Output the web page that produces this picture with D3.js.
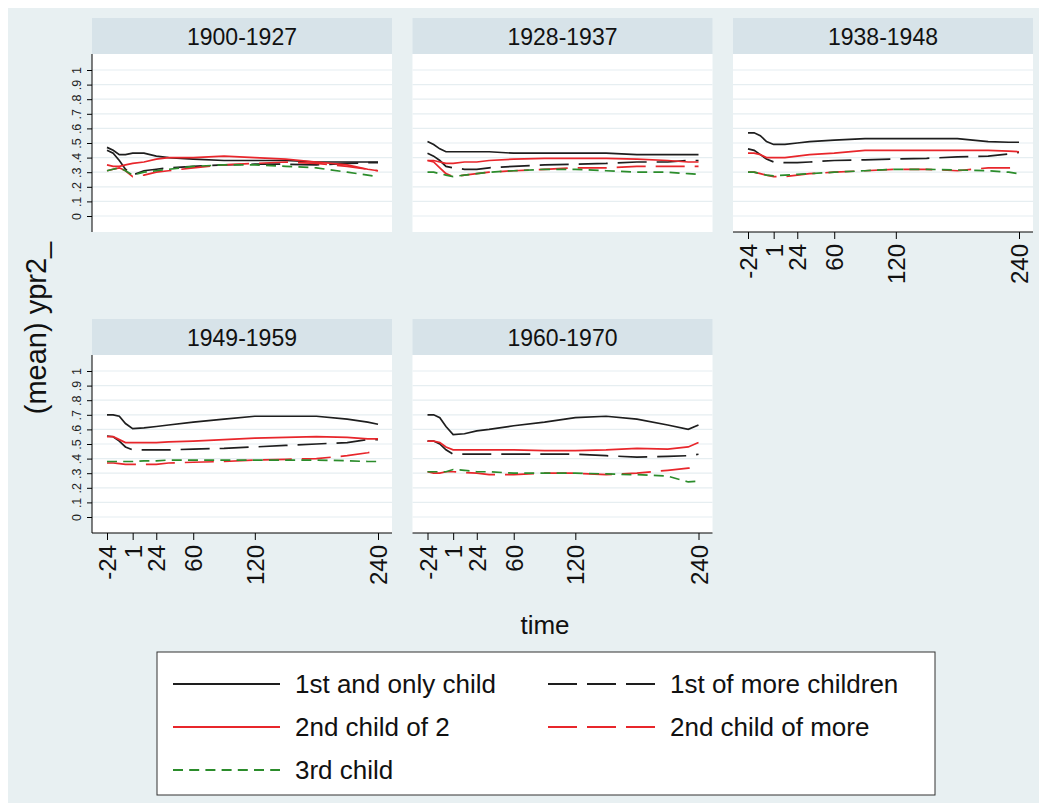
<!DOCTYPE html>
<html>
<head>
<meta charset="utf-8">
<style>
  body { margin: 0; background: #fff; }
  svg { display: block; font-family: 'Liberation Sans', Arial, sans-serif; }
  .axis line, .axis path { stroke: #000; }
</style>
</head>
<body>
<svg width="1039" height="803"></svg>
<script src="https://d3js.org/d3.v7.min.js"></script>
<script>
// months relative to event
const months = [-24, -18, -12, -6, 1, 12, 24, 36, 60, 90, 120, 150, 180, 210, 230, 240];
const cohorts = ["1900-1927", "1928-1937", "1938-1948", "1949-1959", "1960-1970"];
const seriesNames = ["1st and only child", "1st of more children", "2nd child of 2", "2nd child of more", "3rd child"];
const xTicks = [-24, 1, 24, 60, 120, 240];
const yTicks = [0, .1, .2, .3, .4, .5, .6, .7, .8, .9, 1];

// (mean) ypr2_ per cohort, one array per series
const onlyChild = [
  [.47, .45, .42, .42, .43, .43, .41, .40, .39, .38, .38, .38, .37, .37, .37, .37],
  [.51, .49, .46, .44, .44, .44, .44, .44, .43, .43, .43, .43, .42, .42, .42, .42],
  [.57, .57, .55, .51, .49, .49, .50, .51, .52, .53, .53, .53, .53, .51, .505, .505],
  [.70, .70, .69, .64, .605, .61, .62, .63, .65, .67, .69, .69, .69, .67, .65, .635],
  [.70, .70, .68, .62, .565, .57, .59, .60, .625, .65, .68, .69, .67, .63, .60, .63]
];
const firstOfMore = [
  [.45, .43, .38, .32, .28, .31, .32, .33, .34, .35, .355, .355, .35, .36, .365, .365],
  [.43, .41, .38, .34, .33, .32, .32, .33, .34, .35, .355, .36, .37, .37, .38, .38],
  [.46, .45, .42, .39, .37, .365, .365, .37, .38, .385, .39, .395, .405, .41, .425, .435],
  [.555, .55, .52, .48, .46, .46, .46, .46, .465, .47, .48, .49, .50, .51, .53, .53],
  [.52, .52, .50, .46, .43, .43, .43, .43, .43, .43, .43, .42, .41, .415, .42, .43]
];
const secondOf2 = [
  [.35, .34, .34, .35, .36, .37, .39, .40, .40, .41, .40, .39, .37, .35, .32, .31],
  [.38, .38, .37, .36, .36, .37, .37, .38, .39, .395, .395, .395, .39, .38, .37, .37],
  [.43, .43, .42, .40, .40, .40, .41, .42, .43, .45, .45, .45, .45, .45, .445, .44],
  [.55, .55, .53, .51, .51, .51, .51, .515, .52, .53, .54, .545, .55, .545, .535, .535],
  [.52, .52, .51, .48, .46, .46, .46, .46, .46, .455, .455, .46, .47, .465, .48, .51]
];
const secondOfMore = [
  [.31, .32, .33, .31, .27, .28, .30, .31, .33, .35, .36, .37, .36, .34, .32, .31],
  [.38, .37, .33, .29, .27, .28, .29, .30, .31, .32, .33, .33, .34, .34, .34, .34],
  [.30, .30, .29, .28, .27, .27, .28, .29, .30, .31, .32, .32, .31, .33, .33, .33],
  [.37, .37, .365, .36, .36, .36, .36, .37, .375, .38, .39, .395, .40, .42, .44, .455],
  [.31, .30, .30, .31, .31, .305, .30, .29, .29, .30, .30, .29, .30, .32, .335, .335]
];
const thirdChild = [
  [.31, .32, .33, .31, .28, .30, .31, .32, .34, .35, .35, .34, .33, .30, .28, .27],
  [.30, .30, .29, .28, .27, .28, .29, .30, .31, .32, .32, .31, .30, .30, .29, .285],
  [.30, .30, .29, .28, .275, .28, .285, .29, .30, .31, .32, .32, .315, .31, .30, .29],
  [.38, .38, .38, .38, .38, .385, .385, .39, .39, .39, .39, .39, .39, .385, .38, .38],
  [.31, .31, .31, .31, .325, .32, .31, .31, .30, .30, .30, .295, .29, .28, .24, .245]
];

const seriesData = [onlyChild, firstOfMore, secondOf2, secondOfMore, thirdChild];
const seriesStyle = [
  { color: "#1e1e1e", dash: null },
  { color: "#1e1e1e", dash: "29,10" },
  { color: "#e8262b", dash: null },
  { color: "#e8262b", dash: "29,10" },
  { color: "#2b8c2b", dash: "10,6.2" }
];

const svg = d3.select("svg");

// outer graph region
svg.append("rect")
  .attr("x", 8).attr("y", 8)
  .attr("width", 1031).attr("height", 795)
  .style("fill", "#e8f0f2");

const panelW = 300, stripH = 36, panelH = 214;

cohorts.forEach(function (label, i) {
  let col = i % 3, row = Math.floor(i / 3);
  let left = 92 + col * 320.5;
  let top = 18 + row * 301;
  let plotTop = top + stripH;
  let plotBottom = top + panelH;

  let x = d3.scaleLinear().domain([-24, 240]).range([left + 15, left + 286]);
  let y = d3.scaleLinear().domain([0, 1]).range([plotBottom - 16, plotTop + 16]);

  let g = svg.append("g");

  // strip
  g.append("rect")
    .attr("x", left).attr("y", top)
    .attr("width", panelW).attr("height", stripH)
    .style("fill", "#d7e3e9");
  g.append("text")
    .attr("x", left + panelW / 2).attr("y", top + stripH / 2 + 1)
    .attr("text-anchor", "middle")
    .attr("dominant-baseline", "central")
    .style("font-size", "23px")
    .style("fill", "#111")
    .text(label);

  // plot region
  g.append("rect")
    .attr("x", left).attr("y", plotTop)
    .attr("width", panelW).attr("height", plotBottom - plotTop)
    .style("fill", "#fff");

  // gridlines
  g.append("g")
    .selectAll("line")
    .data(yTicks)
    .join("line")
    .attr("x1", left).attr("x2", left + panelW)
    .attr("y1", d => y(d)).attr("y2", d => y(d))
    .style("stroke", "#e6eef1")
    .style("stroke-width", "1.2px");

  // lines
  let line = d3.line()
    .x((d, j) => x(months[j]))
    .y(d => y(d));

  seriesData.forEach(function (s, k) {
    g.append("path")
      .attr("d", line(s[i]))
      .style("fill", "none")
      .style("stroke", seriesStyle[k].color)
      .style("stroke-width", "1.7px")
      .style("stroke-dasharray", seriesStyle[k].dash);
  });

  // y axis on first column
  if (col === 0) {
    let yAxis = g.append("g")
      .attr("class", "axis")
      .attr("transform", `translate(${left},0)`)
      .call(d3.axisLeft(y).tickValues(yTicks).tickSize(5)
        .tickFormat(d => d === 0 ? "0" : d === 1 ? "1" : d3.format(".1f")(d).replace(/^0/, "")));
    yAxis.select(".domain").attr("d", `M0,${plotTop}V${plotBottom}`);
    yAxis.selectAll(".tick text")
      .attr("x", null).attr("dy", null)
      .attr("transform", "translate(-11,0) rotate(-90)")
      .attr("text-anchor", "middle")
      .style("font-size", "12.5px")
      .style("fill", "#222");
  }

  // x axis where no panel below
  if (i >= 2) {
    let xAxis = g.append("g")
      .attr("class", "axis")
      .attr("transform", `translate(0,${plotBottom})`)
      .call(d3.axisBottom(x).tickValues(xTicks).tickSize(7).tickFormat(d => String(d)));
    xAxis.select(".domain").attr("d", `M${left},0H${left + panelW}`);
    xAxis.selectAll(".tick text")
      .attr("y", null).attr("dy", null)
      .attr("transform", "translate(0,12) rotate(-90)")
      .attr("text-anchor", "end")
      .attr("dominant-baseline", "central")
      .style("font-size", "24px")
      .style("fill", "#111");
  }
});

// axis titles
svg.append("text")
  .attr("transform", "translate(36,328) rotate(-90)")
  .attr("text-anchor", "middle")
  .attr("dominant-baseline", "central")
  .style("font-size", "29px")
  .style("fill", "#111")
  .text("(mean) ypr2_");

svg.append("text")
  .attr("x", 545).attr("y", 625)
  .attr("text-anchor", "middle")
  .attr("dominant-baseline", "central")
  .style("font-size", "26px")
  .style("fill", "#111")
  .text("time");

// legend
let legend = svg.append("g");
legend.append("rect")
  .attr("x", 157).attr("y", 652)
  .attr("width", 778).attr("height", 143)
  .style("fill", "#fff")
  .style("stroke", "#333")
  .style("stroke-width", "1px");

let legendCols = [173, 548], legendRows = [684, 727, 770];
let items = legend.selectAll("g.item")
  .data(seriesNames)
  .join("g")
  .attr("class", "item")
  .attr("transform", (d, k) => `translate(${legendCols[k % 2]},${legendRows[Math.floor(k / 2)]})`);

items.append("line")
  .attr("x1", 0).attr("x2", 107)
  .attr("y1", 0).attr("y2", 0)
  .style("stroke", (d, k) => seriesStyle[k].color)
  .style("stroke-width", "1.9px")
  .style("stroke-dasharray", (d, k) => seriesStyle[k].dash);

items.append("text")
  .attr("x", 122).attr("y", 0)
  .attr("dominant-baseline", "central")
  .style("font-size", "26px")
  .style("fill", "#111")
  .text(d => d);
</script>
</body>
</html>
